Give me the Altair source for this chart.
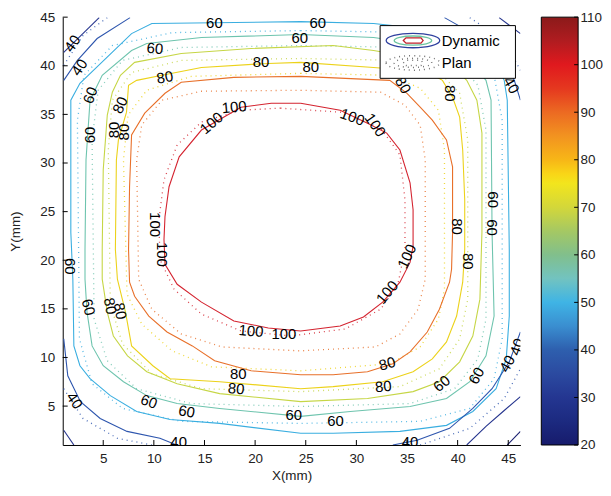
import altair as alt
import pandas as pd

# ---------------- data (mm) ----------------
LEVELS = [20, 30, 40, 50, 60, 70, 80, 90, 100]
LINE_COLORS = ["#1a1f70", "#26358e", "#2e56ae", "#3aaee0", "#6ec4ae",
               "#c6d646", "#ecd21a", "#e8702a", "#d42430"]

# Dynamic (measured) contours
DYN100_X = [24.5, 28.4, 31.1, 33.0, 34.3, 35.3, 35.6, 35.6, 35.3, 34.3, 32.6, 30.7, 28.4, 24.5, 21.3, 17.9, 14.7, 12.3, 11.1, 11.0, 11.1, 11.5, 12.5, 14.7, 18.6, 21.6, 24.5]
DYN100_Y = [36.15, 35.43, 34.10, 33.08, 31.34, 27.97, 25.20, 21.42, 19.78, 17.74, 15.69, 14.16, 13.24, 12.73, 13.04, 13.75, 15.69, 17.53, 19.58, 22.14, 24.49, 27.56, 30.63, 33.39, 35.74, 36.15, 36.15]
DYN90_X = [24.5, 33.3, 35.0, 36.3, 37.5, 38.9, 39.5, 39.5, 39.4, 39.2, 38.2, 37.0, 35.3, 33.6, 31.1, 27.7, 24.5, 19.6, 16.0, 13.8, 11.3, 9.5, 8.1, 7.6, 7.5, 7.6, 7.8, 9.1, 11.1, 12.7, 17.9, 24.5]
DYN90_Y = [38.91, 38.50, 37.17, 35.74, 34.41, 32.37, 29.60, 22.85, 19.07, 17.74, 14.97, 12.62, 10.58, 9.35, 8.53, 8.23, 8.23, 8.63, 9.66, 11.19, 12.62, 14.26, 16.30, 17.74, 21.11, 27.56, 32.88, 35.13, 37.17, 38.30, 38.81, 38.91]
DYN80_X = [24.5, 31.7, 35.3, 37.8, 38.5, 39.5, 40.2, 40.5, 40.7, 40.7, 40.5, 39.9, 38.9, 37.5, 35.6, 32.6, 27.7, 24.5, 16.5, 11.6, 9.9, 7.8, 7.2, 6.4, 6.2, 6.3, 6.5, 7.3, 7.5, 8.3, 10.8, 14.7, 21.3, 24.5]
DYN80_Y = [40.35, 39.83, 39.53, 38.91, 38.50, 36.76, 34.72, 31.34, 26.23, 21.11, 17.74, 14.26, 11.60, 9.86, 8.53, 7.51, 7.00, 6.79, 7.51, 7.82, 9.15, 11.19, 14.67, 18.05, 21.11, 30.32, 32.37, 35.23, 37.99, 38.50, 39.02, 39.83, 40.24, 40.35]
DYN70_X = [27.7, 31.7, 36.3, 39.7, 40.9, 41.9, 42.4, 42.4, 42.2, 41.5, 40.2, 38.2, 35.6, 31.1, 24.5, 16.5, 12.3, 9.3, 7.4, 6.0, 5.4, 4.9, 4.9, 5.0, 5.4, 5.9, 6.7, 8.1, 12.7, 19.6, 27.7]
DYN70_Y = [42.08, 41.57, 40.75, 39.73, 38.50, 36.46, 33.08, 22.85, 16.00, 12.21, 9.55, 7.51, 6.49, 5.78, 5.46, 6.28, 7.30, 8.53, 10.17, 12.21, 14.67, 18.05, 21.11, 29.30, 34.92, 37.28, 39.02, 40.35, 41.27, 41.78, 42.08]
DYN60_X = [24.5, 31.7, 37.2, 41.2, 42.8, 43.3, 43.4, 43.6, 42.8, 41.2, 38.9, 35.3, 29.4, 24.5, 16.5, 12.3, 9.3, 7.0, 5.0, 3.9, 3.4, 3.2, 3.2, 3.3, 3.7, 4.9, 7.8, 9.3, 14.7, 24.5]
DYN60_Y = [43.21, 42.90, 42.08, 40.55, 38.50, 36.46, 22.85, 14.26, 10.17, 7.51, 5.78, 4.96, 4.45, 3.94, 4.76, 5.26, 6.08, 7.51, 9.15, 11.19, 14.67, 18.05, 21.11, 30.32, 36.46, 39.02, 41.57, 42.29, 42.90, 43.21]
DYN50_X = [24.5, 31.7, 36.3, 41.2, 44.1, 44.6, 44.9, 45.1, 45.1, 44.8, 43.8, 41.5, 38.9, 34.3, 27.7, 24.5, 16.5, 11.6, 8.3, 5.7, 3.7, 2.7, 2.1, 2.0, 1.8, 1.8, 2.7, 7.8, 9.8, 24.5]
DYN50_Y = [44.54, 44.34, 43.82, 42.08, 39.53, 38.50, 36.46, 21.11, 14.26, 9.86, 6.79, 4.45, 3.02, 2.40, 2.20, 2.20, 3.22, 3.63, 4.45, 6.08, 7.82, 9.15, 11.19, 18.05, 22.85, 36.46, 38.20, 43.31, 44.34, 44.54]
DYN40_TL_X = [1.1, 2.45, 4.4, 7.65]
DYN40_TL_Y = [38.5, 40.55, 42.8, 44.95]
DYN40_TR_X = [38.7, 42.2, 44.6, 45.6, 46.2]
DYN40_TR_Y = [44.95, 42.9, 40.35, 38.5, 36.46]
DYN40_BL_X = [1.1, 1.5, 2.75, 4.7, 7.35, 10.6, 12.25]
DYN40_BL_Y = [11.91, 8.12, 5.46, 3.73, 2.40, 1.69, 1.0]
DYN40_BR_X = [33.6, 36.0, 39.2, 41.5, 43.4, 45.1, 46.2]
DYN40_BR_Y = [1.0, 1.48, 2.71, 4.76, 6.79, 9.55, 12.62]
DYN30_TL_X = [1.1, 4.6]
DYN30_TL_Y = [41.37, 44.95]
DYN30_TR_X = [44.1, 46.2]
DYN30_TR_Y = [44.95, 43.31]
DYN30_BL_X = [1.1, 2.1]
DYN30_BL_Y = [2.51, 1.0]
DYN30_BR_X = [40.9, 42.8, 44.6, 46.2]
DYN30_BR_Y = [1.0, 2.92, 4.55, 5.98]
DYN20_BR_X = [44.9, 46.2]
DYN20_BR_Y = [1.0, 2.4]

# Plan contours (dotted)
PLAN100_X = [22.5, 28.4, 32.4, 34.3, 34.8, 34.8, 34.1, 32.4, 28.9, 23.5, 18.6, 14.7, 12.0, 10.6, 10.5, 11.0, 12.3, 14.7, 18.6, 22.5]
PLAN100_Y = [35.64, 35.23, 33.59, 30.83, 26.23, 21.11, 17.53, 14.97, 12.93, 12.21, 12.73, 14.46, 17.02, 20.09, 24.18, 28.27, 31.85, 34.21, 35.43, 35.64]
PLAN90_X = [24.5, 32.4, 34.8, 36.3, 36.8, 36.8, 36.1, 34.3, 31.9, 24.5, 16.7, 12.7, 9.8, 8.5, 8.3, 8.8, 10.8, 14.7, 24.5]
PLAN90_Y = [37.48, 37.28, 35.95, 33.90, 30.32, 18.05, 14.97, 12.42, 11.09, 10.68, 11.09, 12.42, 14.97, 18.05, 30.32, 33.90, 36.46, 37.38, 37.48]
PLAN80_X = [24.5, 33.3, 36.3, 38.1, 38.7, 38.7, 38.1, 36.3, 33.3, 24.5, 15.7, 11.8, 8.8, 7.35, 7.0, 7.45, 9.3, 13.7, 24.5]
PLAN80_Y = [39.22, 39.02, 37.69, 35.43, 31.34, 17.02, 13.95, 11.09, 9.35, 8.63, 9.04, 10.68, 13.44, 16.51, 30.32, 34.92, 37.48, 38.91, 39.22]
PLAN70_X = [24.5, 34.3, 38.2, 40.2, 41.0, 41.0, 40.2, 38.2, 34.3, 24.5, 14.7, 9.8, 6.9, 5.7, 5.5, 5.9, 7.8, 12.7, 24.5]
PLAN70_Y = [40.75, 40.55, 39.32, 37.17, 32.37, 16.00, 11.91, 8.84, 7.00, 6.49, 6.79, 8.33, 11.40, 15.49, 31.34, 36.46, 39.32, 40.55, 40.75]
PLAN60_X = [24.5, 35.3, 39.7, 42.0, 42.8, 42.8, 42.0, 39.7, 35.3, 24.5, 13.7, 8.3, 5.4, 4.1, 3.9, 4.5, 6.9, 12.7, 24.5]
PLAN60_Y = [42.08, 41.88, 40.75, 37.99, 33.39, 13.95, 9.86, 6.79, 5.26, 4.96, 5.26, 6.79, 9.66, 13.95, 32.37, 37.48, 40.55, 41.88, 42.08]
PLAN50_X = [24.5, 36.3, 41.2, 43.6, 44.4, 44.4, 43.6, 41.2, 36.3, 24.5, 12.7, 6.9, 3.9, 2.65, 2.45, 3.1, 5.9, 11.8, 24.5]
PLAN50_Y = [43.62, 43.41, 42.08, 39.02, 34.41, 11.91, 7.82, 4.76, 3.43, 3.22, 3.43, 4.76, 7.30, 11.91, 34.41, 39.02, 42.08, 43.41, 43.62]
PLAN40_TL_X = [1.1, 3.0, 5.4]
PLAN40_TL_Y = [40.04, 43.11, 44.95]
PLAN40_TR_X = [41.2, 44.6, 46.2]
PLAN40_TR_Y = [44.95, 42.6, 39.53]
PLAN40_BL_X = [1.1, 3.0, 6.4, 9.8]
PLAN40_BL_Y = [6.79, 3.73, 1.69, 1.0]
PLAN40_BR_X = [36.3, 41.2, 44.6, 46.2]
PLAN40_BR_Y = [1.0, 2.71, 5.78, 8.84]

# Contour labels
LABEL_TEXT = ["60", "60", "40", "40", "60", "60", "60", "60", "80", "80",
              "80", "80", "80", "80", "100", "100", "100", "100", "100", "100",
              "80", "80", "40", "60", "60", "80", "80", "100", "100", "80",
              "80", "60", "60", "40", "40", "60", "60", "40", "60", "60",
              "80", "80", "40", "60", "60", "100", "100", "80", "80", "40"]
LABEL_X = [15.98, 26.18, 1.96, 2.65, 10.10, 24.41, 3.73, 3.73, 11.08, 20.59,
           25.49, 6.67, 6.08, 7.06, 17.94, 15.69, 10.10, 10.78, 29.61, 31.86,
           34.61, 39.22, 45.29, 43.53, 43.43, 39.90, 40.98, 35.0, 33.04, 33.04,
           32.65, 38.43, 41.86, 44.90, 45.88, 27.94, 23.82, 35.29, 1.67, 3.53,
           5.69, 6.67, 2.16, 9.51, 13.24, 19.61, 22.84, 18.33, 18.14, 12.45]
LABEL_Y = [44.44, 44.44, 42.29, 39.83, 41.78, 42.90, 36.97, 32.88, 38.81, 40.35,
           39.83, 35.95, 33.39, 33.18, 35.74, 34.10, 23.67, 20.60, 34.72, 33.90,
           37.99, 37.17, 37.99, 26.23, 23.36, 23.47, 19.89, 20.40, 16.71, 9.35,
           7.0, 7.31, 8.12, 9.35, 11.09, 3.51, 4.12, 1.28, 19.37, 15.18,
           15.28, 14.77, 5.56, 5.46, 4.44, 12.72, 12.42, 8.33, 6.79, 1.28]
LABEL_ANGLE = [0, 0, 305, 305, 5, 0, 290, 270, 350, 0,
               0, 295, 270, 270, 355, 320, 90, 90, 20, 55,
               60, 90, 60, 90, 90, 90, 90, 295, 310, 345,
               355, 320, 300, 300, 290, 0, 0, 0, 90, 75,
               80, 80, 55, 20, 10, 5, 0, 0, 5, 0]

X_TICKS = [5, 10, 15, 20, 25, 30, 35, 40, 45]
Y_TICKS = [5, 10, 15, 20, 25, 30, 35, 40, 45]
CBAR_TICKS = [20, 30, 40, 50, 60, 70, 80, 90, 100, 110]
CBAR_STOP_VALUES = [20, 25, 30, 35, 40, 45, 50, 55, 60, 65, 70, 75, 77, 80, 85, 90, 95, 100, 105, 110]
CBAR_STOP_COLORS = ["#171b6c", "#1c2a80", "#243691", "#2b4aa0", "#2e5fae", "#3a8ed0",
                    "#3fb4e5", "#72c3c0", "#81bf8c", "#a5c863", "#d3d73a", "#f2e51d",
                    "#f9d617", "#f7b617", "#f29320", "#ec6a22", "#e5381f", "#e0191e",
                    "#b01c20", "#8b1a1a"]

# ---------------- build tables ----------------
def add(rows, name, level, xs, ys):
    for i, (x, y) in enumerate(zip(xs, ys)):
        rows.append({"seg": name, "level": level, "x": x, "y": y, "i": i})

dyn_rows = []
add(dyn_rows, "d100", 100, DYN100_X, DYN100_Y)
add(dyn_rows, "d90", 90, DYN90_X, DYN90_Y)
add(dyn_rows, "d80", 80, DYN80_X, DYN80_Y)
add(dyn_rows, "d70", 70, DYN70_X, DYN70_Y)
add(dyn_rows, "d60", 60, DYN60_X, DYN60_Y)
add(dyn_rows, "d50", 50, DYN50_X, DYN50_Y)
add(dyn_rows, "d40a", 40, DYN40_TL_X, DYN40_TL_Y)
add(dyn_rows, "d40b", 40, DYN40_TR_X, DYN40_TR_Y)
add(dyn_rows, "d40c", 40, DYN40_BL_X, DYN40_BL_Y)
add(dyn_rows, "d40d", 40, DYN40_BR_X, DYN40_BR_Y)
add(dyn_rows, "d30a", 30, DYN30_TL_X, DYN30_TL_Y)
add(dyn_rows, "d30b", 30, DYN30_TR_X, DYN30_TR_Y)
add(dyn_rows, "d30c", 30, DYN30_BL_X, DYN30_BL_Y)
add(dyn_rows, "d30d", 30, DYN30_BR_X, DYN30_BR_Y)
add(dyn_rows, "d20d", 20, DYN20_BR_X, DYN20_BR_Y)
dyn_df = pd.DataFrame(dyn_rows)

plan_rows = []
add(plan_rows, "p100", 100, PLAN100_X, PLAN100_Y)
add(plan_rows, "p90", 90, PLAN90_X, PLAN90_Y)
add(plan_rows, "p80", 80, PLAN80_X, PLAN80_Y)
add(plan_rows, "p70", 70, PLAN70_X, PLAN70_Y)
add(plan_rows, "p60", 60, PLAN60_X, PLAN60_Y)
add(plan_rows, "p50", 50, PLAN50_X, PLAN50_Y)
add(plan_rows, "p40a", 40, PLAN40_TL_X, PLAN40_TL_Y)
add(plan_rows, "p40b", 40, PLAN40_TR_X, PLAN40_TR_Y)
add(plan_rows, "p40c", 40, PLAN40_BL_X, PLAN40_BL_Y)
add(plan_rows, "p40d", 40, PLAN40_BR_X, PLAN40_BR_Y)
plan_df = pd.DataFrame(plan_rows)

label_df = pd.DataFrame({"x": LABEL_X, "y": LABEL_Y, "t": LABEL_TEXT, "a": LABEL_ANGLE})
xt_df = pd.DataFrame({"x": X_TICKS})
yt_df = pd.DataFrame({"y": Y_TICKS})

# ---------------- styling ----------------
FONT = "Liberation Sans"
W, H = 460, 430
xscale = alt.Scale(domain=[1, 46.2], nice=False, zero=False)
yscale = alt.Scale(domain=[1, 45], nice=False, zero=False)
cscale = alt.Scale(domain=LEVELS, range=LINE_COLORS)

xaxis = alt.Axis(values=X_TICKS, title="X(mm)", ticks=False, tickSize=0, grid=False,
                 domainColor="black", labelFont=FONT, labelFontSize=13.5, labelColor="#222",
                 labelPadding=7, titleFont=FONT, titleFontSize=13.5, titleFontWeight="normal",
                 titleColor="#222", titlePadding=3)
yaxis = alt.Axis(values=Y_TICKS, title="Y(mm)", ticks=False, tickSize=0, grid=False,
                 domainColor="black", labelFont=FONT, labelFontSize=13.5, labelColor="#222",
                 labelPadding=8, titleFont=FONT, titleFontSize=13.5, titleFontWeight="normal",
                 titleColor="#222", titlePadding=17)

XE = alt.X("x:Q", scale=xscale, axis=xaxis)
YE = alt.Y("y:Q", scale=yscale, axis=yaxis)

dyn = alt.Chart(dyn_df).mark_line(strokeWidth=1.1, clip=True).encode(
    x=XE, y=YE,
    color=alt.Color("level:O", scale=cscale, legend=None),
    detail="seg:N", order="i:Q")

plan = alt.Chart(plan_df).mark_line(strokeWidth=1.3, strokeDash=[1, 4], clip=True, opacity=0.85).encode(
    x=XE, y=YE,
    color=alt.Color("level:O", scale=cscale, legend=None),
    detail="seg:N", order="i:Q")

labels = alt.Chart(label_df).mark_text(font=FONT, fontSize=15, color="black",
                                       align="center", baseline="middle", clip=True).encode(
    x=XE, y=YE, text="t:N", angle=alt.Angle("a:Q", scale=None))

xticks = alt.Chart(xt_df).mark_rule(color="black").encode(
    x=XE, y=alt.value(H), y2=alt.value(H - 5))
yticks = alt.Chart(yt_df).mark_rule(color="black").encode(
    y=YE, x=alt.value(0), x2=alt.value(5))

one = pd.DataFrame({"k": [0]})
leg_box = alt.Chart(one).mark_rect(fill="white", stroke="black", strokeWidth=1).encode(
    x=alt.value(319), x2=alt.value(455), y=alt.value(8.5), y2=alt.value(61.5))

ELL_OUT = "M -1 0 A 1 0.27 0 1 0 1 0 A 1 0.27 0 1 0 -1 0 Z"
ELL_MID = "M -0.7 0 A 0.7 0.17 0 1 0 0.7 0 A 0.7 0.17 0 1 0 -0.7 0 Z"
ELL_IN = "M -0.36 0 L -0.26 -0.1 L 0.3 -0.1 L 0.38 0 L 0.3 0.1 L -0.26 0.1 Z"

def icon(path, color, y, dash=None, width=1.3):
    kw = dict(shape=path, size=2900, filled=False, stroke=color, strokeWidth=width, opacity=1)
    if dash is not None:
        kw["strokeDash"] = dash
    return alt.Chart(one).mark_point(**kw).encode(x=alt.value(352), y=alt.value(y))

leg_items = [
    icon(ELL_OUT, "#2e3f9e", 23.5),
    icon(ELL_MID, "#6cc4a0", 23.5),
    icon(ELL_IN, "#c0202a", 23.5),
    icon(ELL_OUT, "#777777", 46, dash=[1, 4], width=1.5),
    icon(ELL_MID, "#777777", 46, dash=[1, 4], width=1.5),
    icon(ELL_IN, "#777777", 46, dash=[1, 4], width=1.5),
]
leg_dyn = alt.Chart(one).mark_text(font=FONT, fontSize=15, color="black", align="left",
                                   baseline="middle", text="Dynamic").encode(
    x=alt.value(381), y=alt.value(23.5))
leg_plan = alt.Chart(one).mark_text(font=FONT, fontSize=15, color="black", align="left",
                                    baseline="middle", text="Plan").encode(
    x=alt.value(381), y=alt.value(46))

main = alt.layer(plan, dyn, labels, xticks, yticks, leg_box, *leg_items, leg_dyn, leg_plan).properties(
    width=W, height=H)

# ---------------- colorbar ----------------
grad = alt.LinearGradient(
    gradient="linear",
    stops=[alt.GradientStop(offset=(v - 20) / 90.0, color=c)
           for v, c in zip(CBAR_STOP_VALUES, CBAR_STOP_COLORS)],
    x1=0, x2=0, y1=1, y2=0)
cscale_bar = alt.Scale(domain=[20, 110], nice=False, zero=False)
caxis = alt.Axis(orient="right", values=CBAR_TICKS, title=None, ticks=False, tickSize=0,
                 domain=False, grid=False, labelFont=FONT, labelFontSize=13.5,
                 labelColor="#222", labelPadding=2)
bar = alt.Chart(pd.DataFrame({"lo": [20], "hi": [110]})).mark_rect(
    color=grad, stroke="black", strokeWidth=1).encode(
    y=alt.Y("lo:Q", scale=cscale_bar, axis=caxis), y2="hi:Q",
    x=alt.value(0), x2=alt.value(37))
bar_ticks = alt.Chart(pd.DataFrame({"lo": CBAR_TICKS})).mark_rule(color="black").encode(
    y=alt.Y("lo:Q", scale=cscale_bar, axis=caxis), x=alt.value(33), x2=alt.value(37))
cbar = alt.layer(bar, bar_ticks).properties(width=37, height=H)

chart = alt.hconcat(main, cbar, spacing=20).properties(
    padding={"left": 0, "top": 1, "right": 0, "bottom": 0}
).configure(background="white").configure_view(stroke=None)

chart.save("out.html", embed_options={"renderer": "svg", "actions": False})
